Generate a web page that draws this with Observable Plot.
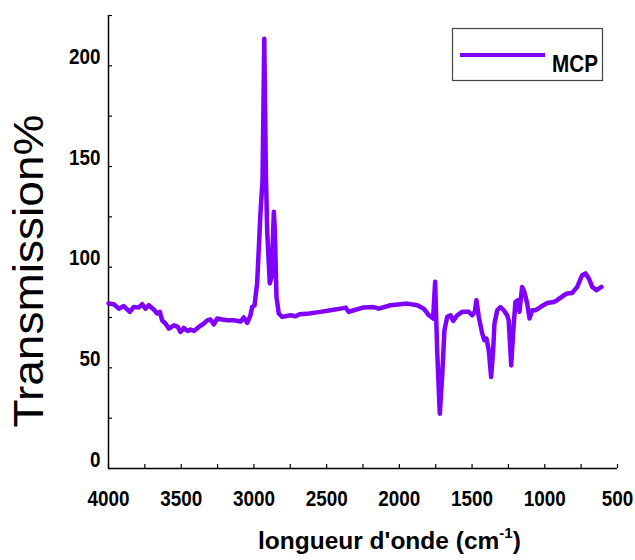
<!DOCTYPE html>
<html>
<head>
<meta charset="utf-8">
<script src="https://cdn.jsdelivr.net/npm/d3@7"></script>
<script src="https://cdn.jsdelivr.net/npm/@observablehq/plot@0.6"></script>
<style>
  html, body { margin: 0; padding: 0; background: #fff; }
  #chart svg { display: block; }
</style>
</head>
<body>
<div id="chart"></div>
<script>
// Wavenumber (cm-1) and transmission (%)
const wavenumber = [
  4000, 3963, 3929, 3895, 3853, 3826, 3792, 3768, 3746, 3723, 3689, 3665, 3647, 3631, 3608, 3585,
  3551, 3523, 3505, 3482, 3455, 3436, 3413, 3379, 3345, 3321, 3299, 3276, 3253, 3218, 3184, 3138,
  3092, 3070, 3046, 3024, 3012, 2996, 2978, 2955, 2941, 2929, 2918, 2909, 2891, 2879, 2863, 2856,
  2845, 2829, 2806, 2749, 2714, 2685, 2620, 2542, 2474, 2405, 2370, 2348, 2313, 2245, 2176, 2141,
  2061, 1946, 1877, 1832, 1797, 1768, 1754, 1740, 1722, 1706, 1690, 1671, 1648, 1630, 1602, 1568,
  1523, 1500, 1481, 1470, 1454, 1430, 1415, 1401, 1385, 1369, 1355, 1346, 1327, 1305, 1282, 1259,
  1248, 1231, 1218, 1202, 1186, 1174, 1156, 1140, 1121, 1105, 1087, 1064, 1030, 984, 938, 915,
  869, 846, 812, 777, 743, 720, 697, 674, 645, 610
];
const transmission = [
  82.0, 81.6, 79.4, 80.7, 77.8, 80.2, 80.0, 81.6, 79.4, 81.1, 79.0, 77.0, 77.8, 73.6, 72.0, 69.5,
  71.1, 70.3, 67.8, 69.8, 68.3, 69.0, 68.3, 70.3, 72.0, 73.6, 74.0, 71.6, 74.5, 74.0, 73.6, 73.6,
  73.0, 75.0, 72.3, 76.1, 80.2, 81.0, 92.0, 126.9, 143.0, 213.5, 148.0, 118.0, 91.9, 95.0, 127.5, 118.0,
  85.2, 77.0, 75.3, 76.1, 75.6, 76.6, 77.0, 77.8, 78.6, 79.4, 79.9, 77.8, 78.6, 80.0, 80.2, 79.4,
  81.1, 81.9, 81.1, 79.4, 76.1, 74.5, 92.7, 58.7, 27.2, 45.4, 68.7, 75.3, 76.1, 73.3, 76.1, 77.8,
  77.8, 76.1, 77.8, 83.6, 75.3, 67.0, 63.7, 64.5, 58.7, 45.4, 58.7, 72.0, 78.6, 80.2, 78.6, 76.1,
  73.6, 51.2, 67.0, 82.7, 83.6, 77.8, 90.2, 87.7, 81.9, 74.5, 78.6, 78.6, 80.2, 82.2, 82.7, 83.6,
  86.0, 86.9, 87.2, 90.2, 96.0, 96.9, 94.4, 90.2, 88.6, 90.2
];
const xDomain = [4000, 500];
const yDomain = [0, 225];
const xTickLabels = [4000, 3500, 3000, 2500, 2000, 1500, 1000, 500];
const xMinorTicks = [4000, 3750, 3500, 3250, 3000, 2750, 2500, 2250, 2000, 1750, 1500, 1250, 1000, 750, 500];
const yTickLabels = [0, 50, 100, 150, 200];
const yMinorTicks = [0, 25, 50, 75, 100, 125, 150, 175, 200, 225];
const seriesName = "MCP";
const seriesColor = "#7f00ff";

const data = wavenumber.map((w, i) => ({w, t: transmission[i]}));
const tickFont = "'Liberation Sans', Arial, sans-serif";

const chart = Plot.plot({
  width: 635,
  height: 560,
  marginLeft: 108,
  marginRight: 18,
  marginTop: 15,
  marginBottom: 92,
  style: {background: "#fff", color: "#000"},
  x: {domain: xDomain},
  y: {domain: yDomain},
  marks: [
    Plot.axisX({ticks: xMinorTicks, tickSize: -4, text: null, label: null, strokeWidth: 1.2}),
    Plot.axisX({ticks: xTickLabels, tickSize: 0, tickPadding: 22, label: null, tickFormat: d => String(d),
      fontSize: 22, fontWeight: "bold", fontFamily: tickFont}),
    Plot.axisY({ticks: yMinorTicks, tickSize: -4, text: null, label: null, strokeWidth: 1.2}),
    Plot.axisY({ticks: yTickLabels, tickSize: 0, tickPadding: 8, dy: -9, label: null, tickFormat: d => String(d),
      fontSize: 22, fontWeight: "bold", fontFamily: tickFont}),
    Plot.ruleY([yDomain[0]], {stroke: "#000", strokeWidth: 1.5}),
    Plot.ruleX([xDomain[0]], {stroke: "#000", strokeWidth: 1.5}),
    Plot.line(data, {x: "w", y: "t", stroke: seriesColor, strokeWidth: 4.5, strokeLinejoin: "round", strokeLinecap: "round"})
  ]
});

document.getElementById("chart").appendChild(chart);

const svg = d3.select(chart);
// condense the bold tick labels like the reference's narrow face
svg.selectAll('g[aria-label="x-axis tick label"] text, g[aria-label="y-axis tick label"] text')
  .each(function() {
    const n = this.textContent.length;
    this.setAttribute("textLength", n * 10.5);
    this.setAttribute("lengthAdjust", "spacingAndGlyphs");
  });

// y-axis title
svg.append("text")
  .attr("transform", "translate(43,271) rotate(-90)")
  .attr("text-anchor", "middle")
  .attr("font-family", "'Liberation Sans', Arial, sans-serif")
  .attr("font-size", 42)
  .attr("fill", "#000")
  .attr("textLength", 313)
  .attr("lengthAdjust", "spacingAndGlyphs")
  .text("Transmission%");

// x-axis title with superscript
const xt = svg.append("text")
  .attr("x", 258).attr("y", 549)
  .attr("text-anchor", "start")
  .attr("font-family", "'Liberation Sans', Arial, sans-serif")
  .attr("font-weight", "bold")
  .attr("font-size", 24.5)
  .attr("fill", "#000");
xt.append("tspan").text("longueur d'onde (cm");
xt.append("tspan").attr("font-size", 15).attr("dy", -11).text("-1");
xt.append("tspan").attr("dy", 11).text(")");

// legend
const lg = svg.append("g");
lg.append("rect").attr("x", 452.5).attr("y", 28.5).attr("width", 150).attr("height", 52)
  .attr("fill", "#fff").attr("stroke", "#444").attr("stroke-width", 1.2);
lg.append("line").attr("x1", 460).attr("x2", 545).attr("y1", 55).attr("y2", 55)
  .attr("stroke", seriesColor).attr("stroke-width", 4);
lg.append("text").attr("x", 552).attr("y", 72)
  .attr("text-anchor", "start")
  .attr("font-family", tickFont).attr("font-weight", "bold").attr("font-size", 23)
  .attr("textLength", 46).attr("lengthAdjust", "spacingAndGlyphs")
  .attr("fill", "#000").text(seriesName);
</script>
</body>
</html>
